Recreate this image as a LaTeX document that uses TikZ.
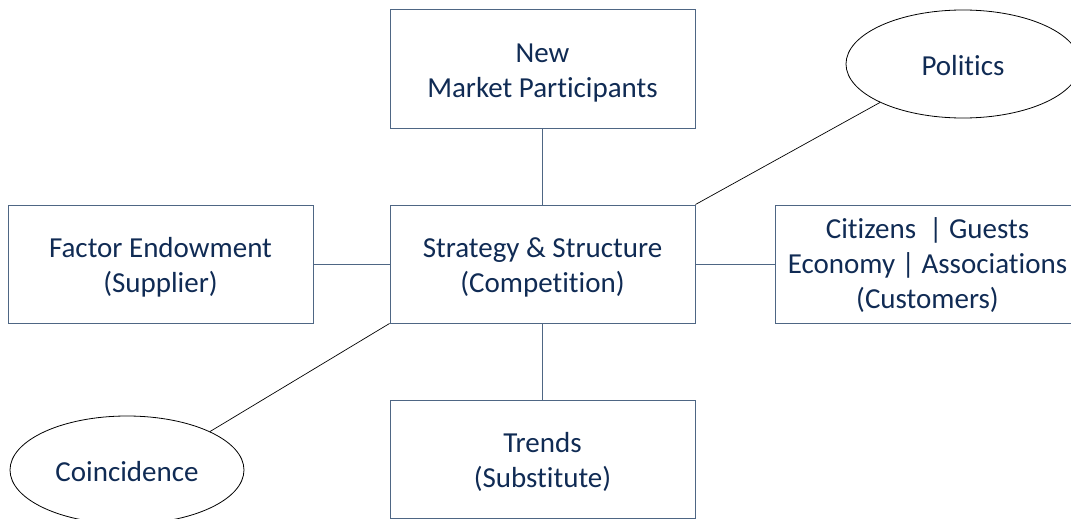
\documentclass[tikz,border=0pt]{standalone}
\usepackage{fontspec}
\setmainfont{Carlito}[Ligatures=NoCommon]
\usetikzlibrary{shapes.geometric, positioning}
\definecolor{boxline}{RGB}{78,102,132}
\definecolor{navytext}{RGB}{16,43,84}

\begin{document}
\begin{tikzpicture}[x=1pt, y=-1pt,
				   every node/.style={text=navytext, font=\fontsize{29}{35}\selectfont, align=center},
				   factor/.style={rectangle, draw=boxline, line width=1pt, minimum width=305pt, minimum height=118pt, text height=62pt},
				   influence/.style={ellipse, draw=black, line width=0.8pt, minimum width=234pt, minimum height=108pt, text height=23pt},
				   link/.style={draw=boxline, line width=1pt},
				   side/.style={draw=black, line width=0.7pt}]
\useasboundingbox (0,0) rectangle (1071,519);
\node[factor] (strategy) at (542.5,264) {Strategy \& Structure\\(Competition)};
\node[factor, above=76pt of strategy] (newmarket) {New\\Market Participants};
\node[factor, below=76pt of strategy] (trends) {Trends\\(Substitute)};
\node[factor, left=76pt of strategy] (endowment) {Factor Endowment\\(Supplier)};
\node[factor, right=79pt of strategy, text height=93pt] (customers) {Citizens\ \ | Guests\\Economy | Associations\\(Customers)};
\node[influence] (politics) at (963,64) {Politics};
\node[influence] (coincidence) at (127,470) {Coincidence};

\draw[link] (newmarket) -- (strategy);
\draw[link] (strategy) -- (trends);
\draw[link] (endowment) -- (strategy);
\draw[link] (strategy) -- (customers);
\draw[side] (strategy.north east) -- (politics.south west);
\draw[side] (strategy.south west) -- (coincidence.north east);
\end{tikzpicture}
\end{document}
